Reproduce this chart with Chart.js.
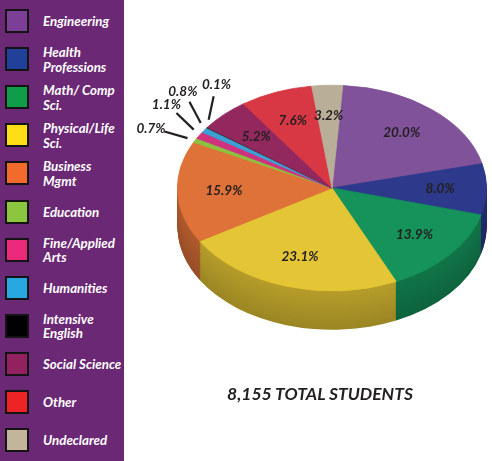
<!DOCTYPE html>
<html>
<head>
<meta charset="utf-8">
<script src="https://cdn.jsdelivr.net/npm/chart.js@4.4.1/dist/chart.umd.min.js"></script>
<style>
  body { margin: 0; background: #fff; font-family: Lato, "DejaVu Sans", sans-serif; }
  #wrap { position: relative; width: 492px; height: 461px; overflow: hidden; }
  #pie { position: absolute; left: 0; top: 0; }
  #key { position: absolute; left: 0; top: 0; width: 124px; height: 461px; background: #6b2874; }
  .item { position: absolute; left: 0; width: 124px; height: 24px; }
  .sw { position: absolute; left: 5px; top: 0; width: 24px; height: 24px; border: 2px solid #141414; box-sizing: border-box; }
  .lbl { position: absolute; left: 43px; top: 50%; transform: translateY(-50%); color: #fff;
         font-weight: bold; font-style: italic; font-size: 13.3px; line-height: 14.5px; white-space: pre-line; }
  #total { position: absolute; left: 180px; width: 280px; top: 383px; text-align: center;
           font: italic bold 17.5px Lato, sans-serif; color: #231f20; }
</style>
</head>
<body>
<div id="wrap">
  <canvas id="pie" width="492" height="461"></canvas>
  <div id="key"></div>
  <div id="total"></div>
</div>
<script>
// data (percent of students)
const categories = ['Engineering', 'Health\nProfessions', 'Math/ Comp\nSci.', 'Physical/Life\nSci.', 'Business\nMgmt',
  'Education', 'Fine/Applied\nArts', 'Humanities', 'Intensive\nEnglish', 'Social Science', 'Other', 'Undeclared'];
const shares = [20.0, 8.0, 13.9, 23.1, 15.9, 0.7, 1.1, 0.8, 0.1, 5.2, 7.6, 3.2];
const totalStudents = '8,155 TOTAL STUDENTS';

const keyColors = ['#7b3f98', '#21409a', '#0f9d4a', '#ffdd17', '#f26a2c', '#8cc63f',
  '#ec2a7c', '#27a8e0', '#000000', '#93215f', '#ee2326', '#c2b59b'];
const sliceColors = ['#80529a', '#2d3a8c', '#15935a', '#e4c535', '#de7239', '#8cc23f',
  '#d1327f', '#3d9fd3', '#2b2b2b', '#93285f', '#d73844', '#b9ae98'];

const TILT = 0.665;  // vertical squash of the pie
const DEPTH = 39;    // thickness of the pie in px
const FAN = [286, 314, 332, 12];  // screen direction (deg) of the leader lines for thin slices

// legend panel
const key = document.getElementById('key');
categories.forEach((c, i) => {
  const it = document.createElement('div');
  it.className = 'item';
  it.style.top = (9 + i * 38.1) + 'px';
  it.innerHTML = '<div class="sw" style="background:' + keyColors[i] + '"></div><div class="lbl"></div>';
  it.querySelector('.lbl').textContent = c;
  key.appendChild(it);
});
document.getElementById('total').textContent = totalStudents;

function shade(hex, f) {
  const n = parseInt(hex.slice(1), 16);
  const r = Math.round(((n >> 16) & 255) * f), g = Math.round(((n >> 8) & 255) * f), b = Math.round((n & 255) * f);
  return 'rgb(' + r + ',' + g + ',' + b + ')';
}

const tiltPlugin = {
  id: 'tilt',
  beforeDatasetsDraw(chart) {
    const arcs = chart.getDatasetMeta(0).data;
    const ctx = chart.ctx;
    const cx = arcs[0].x, cy = arcs[0].y;
    ctx.save();
    ctx.translate(cx, cy);
    ctx.scale(1, TILT);
    ctx.translate(-cx, -cy);
    // stacked layers make the side wall
    for (let d = DEPTH; d > 0; d--) {
      const off = d / TILT;
      arcs.forEach((a, i) => {
        ctx.beginPath();
        ctx.moveTo(a.x, a.y + off);
        ctx.arc(a.x, a.y + off, a.outerRadius, a.startAngle, a.endAngle);
        ctx.closePath();
        ctx.fillStyle = shade(sliceColors[i], 0.8 - 0.12 * d / DEPTH);
        ctx.fill();
      });
    }
  },
  afterDatasetsDraw(chart) {
    const ctx = chart.ctx;
    ctx.restore();
    const arcs = chart.getDatasetMeta(0).data;
    ctx.save();
    ctx.font = 'italic bold 13.5px Lato, sans-serif';
    ctx.fillStyle = '#231f20';
    ctx.strokeStyle = '#231f20';
    ctx.lineWidth = 2.2;
    ctx.textAlign = 'center';
    ctx.textBaseline = 'middle';
    let k = 0;
    arcs.forEach((a, i) => {
      const mid = (a.startAngle + a.endAngle) / 2;
      const txt = shares[i].toFixed(1) + '%';
      if (shares[i] >= 2) {
        const r = a.outerRadius * 0.7;
        ctx.fillText(txt, a.x + Math.cos(mid) * r, a.y + Math.sin(mid) * r * TILT);
      } else {
        // thin slices get a fanned leader line
        const ex = a.x + Math.cos(mid) * a.outerRadius;
        const ey = a.y + Math.sin(mid) * a.outerRadius * TILT;
        const dir = FAN[k % FAN.length] * Math.PI / 180;
        k++;
        const ux = Math.sin(dir), uy = -Math.cos(dir);
        const x0 = ex + ux * 8, y0 = ey + uy * 8;
        const x1 = x0 + ux * 24, y1 = y0 + uy * 24;
        ctx.beginPath();
        ctx.moveTo(x0, y0);
        ctx.lineTo(x1, y1);
        ctx.stroke();
        ctx.fillText(txt, x1 + ux * 14, y1 + uy * 12);
      }
    });
    ctx.restore();
  }
};

new Chart(document.getElementById('pie'), {
  type: 'pie',
  data: {
    labels: categories,
    datasets: [{
      data: shares,
      backgroundColor: sliceColors,
      borderColor: sliceColors,
      borderWidth: 1
    }]
  },
  options: {
    responsive: false,
    animation: false,
    rotation: 4,
    layout: { padding: { left: 177, right: 5, top: 33, bottom: 118 } },
    plugins: {
      legend: { display: false },
      tooltip: { enabled: false }
    }
  },
  plugins: [tiltPlugin]
});
</script>
</body>
</html>
